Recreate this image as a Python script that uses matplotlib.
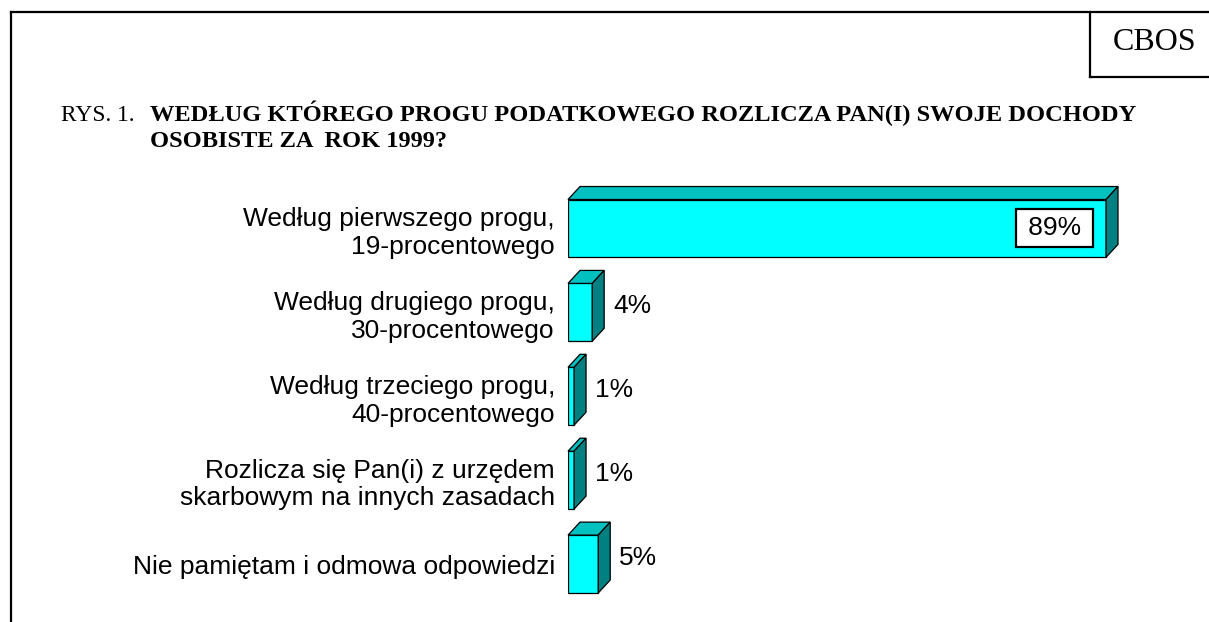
import numpy as np
import matplotlib
matplotlib.use("Agg")
import matplotlib.pyplot as plt
from matplotlib.patches import Polygon
from matplotlib.lines import Line2D

# data
categories = [
    "Według pierwszego progu,\n19-procentowego",
    "Według drugiego progu,\n30-procentowego",
    "Według trzeciego progu,\n40-procentowego",
    "Rozlicza się Pan(i) z urzędem\nskarbowym na innych zasadach",
    "Nie pamiętam i odmowa odpowiedzi",
]
values = [89, 4, 1, 1, 5]
value_labels = ["89%", "4%", "1%", "1%", "5%"]

W, H = 1209, 622
fig = plt.figure(figsize=(W / 100, H / 100), dpi=100)
fig.patch.set_facecolor("white")

# frame around the chart (pixel layout -> figure fraction)
def px(x, y):
    return x / W, 1 - y / H

frame = [((11, 12), (11, H)), ((11, 12), (W, 12)),
         ((1090, 12), (1090, 77)), ((1090, 77), (W, 77))]
for (x0, y0), (x1, y1) in frame:
    a, b = px(x0, y0)
    c, d = px(x1, y1)
    fig.add_artist(Line2D([a, c], [b, d], color="black", lw=1.6))

serif = "Liberation Serif"
sans = "Liberation Sans"

fig.text(*px(1155, 43), "CBOS", family=serif, fontsize=23, ha="center", va="center")
fig.text(*px(61, 121), "RYS. 1.", family=serif, fontsize=16.8, ha="left", va="baseline")
fig.text(*px(150, 121), "WEDŁUG KTÓREGO PROGU PODATKOWEGO ROZLICZA PAN(I) SWOJE DOCHODY",
         family=serif, fontsize=17.6, fontweight="bold", ha="left", va="baseline")
fig.text(*px(150, 147), "OSOBISTE ZA  ROK 1999?",
         family=serif, fontsize=17.6, fontweight="bold", ha="left", va="baseline")

# bar axes: 0% at x=568px, 6.045 px per percent; rows 84 px apart
ax = fig.add_axes([568 / W, 1 - 606 / H, 604.5 / W, (606 - 186.5) / H])
ax.set_xlim(0, 100)
ax.set_ylim(len(values) - 0.5, -0.5)
for s in ax.spines.values():
    s.set_visible(False)
ax.set_xticks([])
ax.patch.set_visible(False)

front = "#00FFFF"
top = "#00C0C0"
side = "#008080"
h = 0.69
dx = 12 / 6.045
dy = 13 / 84

ypos = np.arange(len(values))
ax.barh(ypos, values, height=h, color=front, edgecolor="black", lw=0.9, zorder=2)

for y, v, lab in zip(ypos, values, value_labels):
    t = y - h / 2
    b = y + h / 2
    ax.add_patch(Polygon([(0, t), (v, t), (v + dx, t - dy), (dx, t - dy)],
                         closed=True, fc=top, ec="black", lw=0.9, clip_on=False, zorder=2))
    ax.add_patch(Polygon([(v, t), (v + dx, t - dy), (v + dx, b - dy), (v, b)],
                         closed=True, fc=side, ec="black", lw=0.9, clip_on=False, zorder=2))
    if v > 50:
        ax.text(v - 20 / 6.045, y, "\u2009" + lab + "\u2009", family=sans, fontsize=19,
                ha="right", va="center", zorder=3,
                bbox=dict(boxstyle="square,pad=0.265", fc="white", ec="black", lw=1.6))
    else:
        ax.text(v + dx + 9 / 6.045, y - dy / 2, lab, family=sans, fontsize=19,
                ha="left", va="center", zorder=3)

ax.set_yticks(ypos)
ax.set_yticklabels(categories, family=sans, fontsize=19)
ax.tick_params(axis="y", length=0, pad=9.4)

plt.savefig("out.png", dpi=100)
